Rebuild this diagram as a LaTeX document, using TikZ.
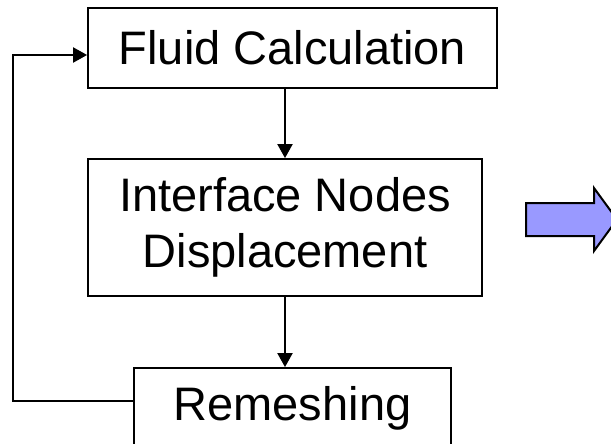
\documentclass[tikz,border=0pt]{standalone}
\usepackage{fontspec}
\setmainfont{Liberation Sans}
\usetikzlibrary{arrows.meta}

\begin{document}
\begin{tikzpicture}[x=1pt,y=-1pt,
		box/.style={draw,line width=1.8pt,inner sep=0pt,align=center,font=\fontsize{47}{56.5}\selectfont},
		flow/.style={line width=2pt,-{Triangle[length=14pt,width=15pt]}}]
			\useasboundingbox (0,0) rectangle (611,444);
			\node (1) [box,minimum width=409pt,minimum height=80pt] at (292.5,48) {Fluid Calculation};
			\node (2) [box,minimum width=394pt,minimum height=137pt] at (285,227.5) {Interface Nodes\\Displacement};
			\node (3) [box,minimum width=317pt,minimum height=80pt] at (292.5,408) {Remeshing};
			\coordinate (back) at (13,401);
			\path[flow]
			(2.north |- 1.south) edge (2.north)
			(2.south) edge (2.south |- 3.north);
			\draw[flow] ([yshift=7pt]3.west) -| (back) |- ([yshift=-7pt]1.west);
			% big arrow
			\draw[line width=2pt,fill={rgb,255:red,153;green,153;blue,255},line join=miter]
			(526,203) -- (594,203) -- (594,188) -- (617,219.5) -- (594,251) -- (594,236) -- (526,236) -- cycle;
		\end{tikzpicture}
\end{document}
